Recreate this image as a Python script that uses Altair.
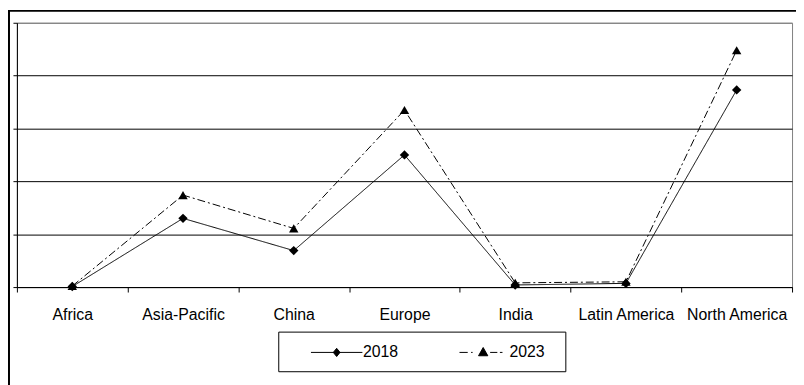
import altair as alt
import pandas as pd

regions = ["Africa", "Asia-Pacific", "China", "Europe", "India", "Latin America", "North America"]
values_2018 = [0.01, 1.30, 0.69, 2.50, 0.04, 0.07, 3.73]
values_2023 = [0.02, 1.74, 1.11, 3.35, 0.08, 0.10, 4.48]
years = ["2018", "2023"]
y_ticks = [0, 1, 2, 3, 4, 5]

df = pd.DataFrame({
    "Region": regions + regions,
    "Value": values_2018 + values_2023,
    "Year": [years[0]] * len(regions) + [years[1]] * len(regions),
})

FONT = "Liberation Sans"

# legend symbols: line segment with marker in the middle (unit box -1..1)
sym_2018 = "M-1,0H1M0,-0.16L0.13,0L0,0.16L-0.13,0Z"
sym_2023 = ("M-0.92,0H-0.6M-0.47,0H-0.41M0.27,0H0.55M0.65,0H0.75"
            "M0,-0.19L0.18,0.13L-0.18,0.13Z")

x_enc = alt.X(
    "Region:N", sort=regions, bandPosition=0.5,
    scale=alt.Scale(type="band", paddingInner=0, paddingOuter=0),
    axis=alt.Axis(title=None, labelAngle=0, tickBand="extent", tickSize=5,
                  labelPadding=28, labelBaseline="alphabetic", labelFont=FONT,
                  labelFontSize=16, labelColor="black", domainColor="black",
                  tickColor="black", grid=False, labelOverlap=False),
)
y_enc = alt.Y(
    "Value:Q", scale=alt.Scale(domain=[0, 5], nice=False, zero=True),
    axis=alt.Axis(title=None, labels=False, values=y_ticks, tickSize=4, grid=True,
                  gridColor={"condition": {"test": "datum.value === 5", "value": "#808080"},
                             "value": "#000000"},
                  gridWidth=1, domainColor="black", tickColor="black"),
)

# outer chart frame and legend box (decorations)
frame = alt.Chart(alt.Data(values=[{}])).mark_rect(
    fillOpacity=0, stroke="black", strokeWidth=2
).encode(x=alt.value(-8), y=alt.value(-12), x2=alt.value(900), y2=alt.value(500))

legend_box = alt.Chart(alt.Data(values=[{}])).mark_rect(
    fill="white", stroke="black", strokeWidth=1
).encode(x=alt.value(264.5), y=alt.value(312.5), x2=alt.value(554.5), y2=alt.value(352.5))

lines = alt.Chart(df).mark_line(color="black", strokeWidth=1).encode(
    x=x_enc, y=y_enc,
    strokeDash=alt.StrokeDash("Year:N", scale=alt.Scale(domain=years, range=[[1, 0], [8, 3, 2, 3]]),
                              legend=None),
)

points = alt.Chart(df).mark_point(filled=True, size=90, color="black", opacity=1).encode(
    x=x_enc, y=y_enc,
    shape=alt.Shape("Year:N", scale=alt.Scale(domain=years, range=["diamond", "triangle-up"]),
                    legend=None),
)

legend_layer = alt.Chart(df).transform_filter("false").mark_point(
    filled=True, fill="black", stroke="black", strokeWidth=1, opacity=1
).encode(
    shape=alt.Shape(
        "Year:N", scale=alt.Scale(domain=years, range=[sym_2018, sym_2023]),
        legend=alt.Legend(
            orient="none", legendX=296.5, legendY=325, direction="horizontal",
            title=None, padding=0,
            labelFont=FONT, labelFontSize=16, labelColor="black", labelOffset=0,
            columnPadding=59, symbolSize=2704, symbolStrokeWidth=1,
            clipHeight=16,
        ),
    )
)

chart = alt.layer(frame, legend_box, lines, points, legend_layer).resolve_scale(
    shape="independent"
).properties(
    width=783, height=267,
    padding={"left": 9, "top": 13, "right": 4, "bottom": 97},
    autosize=alt.AutoSizeParams(type="none"),
    background="white",
).configure_view(stroke="#808080", strokeWidth=1)

chart.save("out.html", embed_options={"renderer": "svg", "actions": False})
